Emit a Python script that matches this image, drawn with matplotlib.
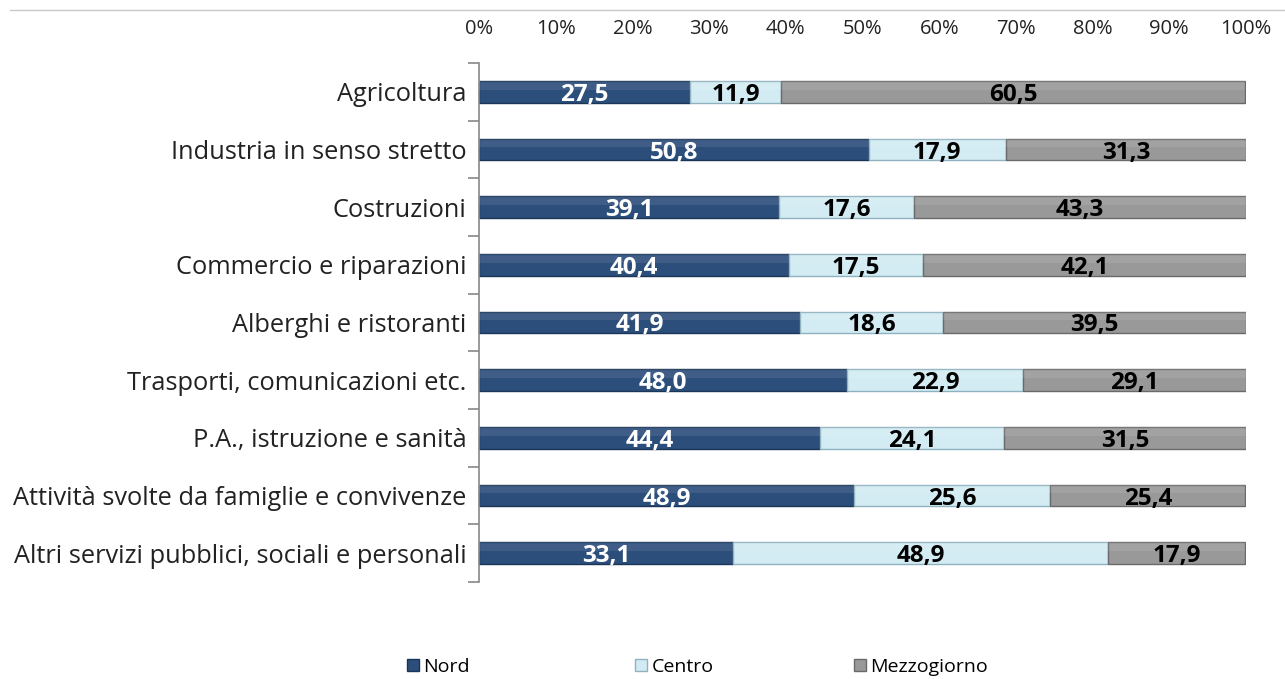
import matplotlib.pyplot as plt
from matplotlib.lines import Line2D

# settori di attività
settori = ['Agricoltura', 'Industria in senso stretto', 'Costruzioni',
           'Commercio e riparazioni', 'Alberghi e ristoranti',
           'Trasporti, comunicazioni etc.', 'P.A., istruzione e sanità',
           'Attività svolte da famiglie e convivenze',
           'Altri servizi pubblici, sociali e personali']

nord = [27.5, 50.8, 39.1, 40.4, 41.9, 48.0, 44.4, 48.9, 33.1]
centro = [11.9, 17.9, 17.6, 17.5, 18.6, 22.9, 24.1, 25.6, 48.9]
mezzogiorno = [60.5, 31.3, 43.3, 42.1, 39.5, 29.1, 31.5, 25.4, 17.9]

serie = ['Nord', 'Centro', 'Mezzogiorno']
colori = ['#2c4e7b', '#d3ecf3', '#999999']
bordi = ['#1b3558', '#8fb2bf', '#6a6a6a']
col_testo = ['white', 'black', 'black']

plt.rcParams['font.family'] = ['Open Sans', 'DejaVu Sans']

fig = plt.figure(figsize=(12.85, 6.79), dpi=100)
ax = fig.add_axes([479 / 1285, 1 - 582 / 679, 767 / 1285, 519 / 679])

alt = 0.38
y = list(range(len(settori)))
sinistra = [0] * len(settori)
for nome, valori, c, b, t in zip(serie, [nord, centro, mezzogiorno], colori, bordi, col_testo):
    barre = ax.barh(y, valori, left=sinistra, height=alt, color=c,
                    edgecolor=b, linewidth=1, label=nome, zorder=2)
    # parte alta della barra un po' più chiara (effetto rilievo)
    ax.barh([i - alt * 0.3 for i in y], valori, left=sinistra, height=alt * 0.4,
            color='white', alpha=0.09, linewidth=0, zorder=3)
    for rect, v in zip(barre, valori):
        ax.text(rect.get_x() + rect.get_width() / 2, rect.get_y() + rect.get_height() / 2,
                f'{v:.1f}'.replace('.', ','), ha='center', va='center_baseline',
                color=t, fontsize=17.5, fontweight='bold', zorder=4)
    sinistra = [s + v for s, v in zip(sinistra, valori)]

ax.set_xlim(0, 100)
ax.set_ylim(len(settori) - 0.5, -0.5)
ax.xaxis.tick_top()
ax.set_xticks(range(0, 101, 10))
ax.set_xticklabels([f'{p}%' for p in range(0, 101, 10)], fontsize=14.5, color='#222222')
ax.tick_params(axis='x', length=0, pad=17)

ax.set_yticks([i - 0.5 for i in range(len(settori) + 1)], minor=False)
ax.set_yticklabels([])
ax.set_yticks(y, minor=True)
ax.set_yticklabels(settori, minor=True, fontsize=18.3, color='#222222')
ax.tick_params(axis='y', which='major', length=8, color='#888888', width=1.2)
ax.tick_params(axis='y', which='minor', length=0, pad=9)

for lato in ['top', 'right', 'bottom']:
    ax.spines[lato].set_visible(False)
ax.spines['left'].set_color('#888888')
ax.spines['left'].set_linewidth(1.2)

# linea sottile in alto
fig.add_artist(Line2D([10 / 1285, 1], [1 - 10 / 679, 1 - 10 / 679], color='#c8c8c8', lw=1))

# legenda: una voce per volta, alle posizioni del riferimento
pos_leg = [404, 632, 851]
for nome, c, b, px in zip(serie, colori, bordi, pos_leg):
    m = Line2D([], [], marker='s', ls='', markersize=9, markerfacecolor=c, markeredgecolor=b)
    fig.legend([m], [nome], loc='center left', bbox_to_anchor=(px / 1285, 1 - 667 / 679),
               frameon=False, fontsize=14, handletextpad=0.1, handlelength=0.9,
               borderpad=0, borderaxespad=0)

fig.savefig('out.png', dpi=100)
